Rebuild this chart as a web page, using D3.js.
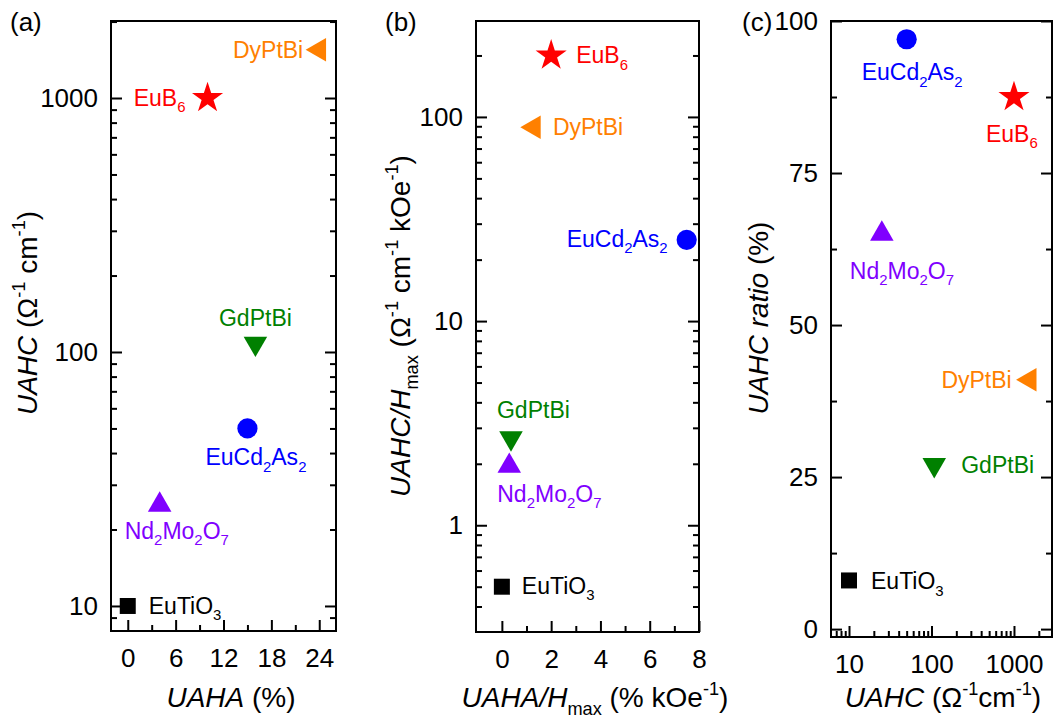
<!DOCTYPE html>
<html>
<head>
<meta charset="utf-8">
<script src="https://cdn.jsdelivr.net/npm/d3@7"></script>
<style>
  body { margin: 0; background: #fff; }
  svg text { font-family: "Liberation Sans", Arial, sans-serif; }
</style>
</head>
<body>
<svg id="chart" width="1054" height="724"></svg>
<script>
// data
const materials = ["EuTiO3", "Nd2Mo2O7", "EuCd2As2", "GdPtBi", "EuB6", "DyPtBi"];
const uaha      = [0, 4, 15, 16, 10, 24];            // %
const uahc      = [10, 25, 50, 108, 1000, 1550];     // ohm^-1 cm^-1
const uahaPerH  = [0, 0.3, 7.5, 0.37, 2, 1.3];       // % kOe^-1
const uahcPerH  = [0.5, 1.95, 25, 2.67, 200, 89];    // ohm^-1 cm^-1 kOe^-1
const uahcRatio = [8, 65, 97, 27, 87.5, 41];         // %

const colors  = ["#000000", "#8000ff", "#0000ff", "#008000", "#ff0000", "#ff8000"];
const shapes  = ["square", "up", "circle", "down", "star", "left"];

let svg = d3.select("#chart");

// text with italic / sub / sup pieces
function richText(sel, parts, size) {
  let shift = 0;
  parts.forEach(function(p) {
    let small = p.s === "sup" || p.s === "sub";
    let fs = small ? size * 0.65 : size;
    let target = p.s === "sup" ? -size * 0.42 : p.s === "sub" ? size * 0.28 : 0;
    sel.append("tspan")
      .attr("font-size", fs)
      .attr("font-style", p.i ? "italic" : "normal")
      .attr("dy", target - shift)
      .text(p.t);
    shift = target;
  });
}

function formula(name) {
  return name.split(/(\d+)/).filter(d => d !== "").map(function(d) {
    return /\d/.test(d) ? {t: d, s: "sub"} : {t: d};
  });
}

function symbolPath(shape) {
  let gen = d3.symbol();
  if (shape === "square") return gen.type(d3.symbolSquare).size(256)();
  if (shape === "circle") return gen.type(d3.symbolCircle).size(320)();
  if (shape === "star") return gen.type(d3.symbolStar).size(300)();
  return gen.type(d3.symbolTriangle).size(240)();
}
function symbolRot(shape) {
  if (shape === "down") return 180;
  if (shape === "left") return -90;
  return 0;
}

let panels = [
  {
    tag: "(a)", tagX: 10,
    box: [111, 336, 21, 631],
    x: d3.scaleLinear().domain([-2.1, 26.1]),
    y: d3.scaleLog().domain([7.97, 2010]),
    xs: uaha, ys: uahc,
    xMajor: [0, 6, 12, 18, 24], xMinor: [3, 9, 15, 21], xFmt: d => d,
    yMajor: [10, 100, 1000], yMinor: [9, 20, 30, 40, 50, 60, 70, 80, 90, 200, 300, 400, 500, 600, 700, 800, 900, 2000], yFmt: d => d,
    xTitle: [{t: "UAHA", i: true}, {t: " (%)"}], xTitleX: 231,
    yTitle: [{t: "UAHC", i: true}, {t: " (Ω"}, {t: "-1", s: "sup"}, {t: " cm"}, {t: "-1", s: "sup"}, {t: ")"}],
    yTitleX: 37, yTitleY: 313,
    labels: [["start", 21, 8], ["start", -35, 34], ["start", -42, 37], ["middle", 0, -18], ["end", -22, 8], ["end", -16, 8]]
  },
  {
    tag: "(b)", tagX: 385,
    box: [476, 699, 21, 632],
    x: d3.scaleLinear().domain([-1.05, 8]),
    y: d3.scaleLog().domain([0.3, 295]),
    xs: uahaPerH, ys: uahcPerH,
    xMajor: [0, 2, 4, 6, 8], xMinor: [1, 3, 5, 7], xFmt: d => d,
    yMajor: [1, 10, 100], yMinor: [0.4, 0.5, 0.6, 0.7, 0.8, 0.9, 2, 3, 4, 5, 6, 7, 8, 9, 20, 30, 40, 50, 60, 70, 80, 90, 200], yFmt: d => d,
    xTitle: [{t: "UAHA/H", i: true}, {t: "max", s: "sub"}, {t: " (% kOe"}, {t: "-1", s: "sup"}, {t: ")"}], xTitleX: 595,
    yTitle: [{t: "UAHC/H", i: true}, {t: "max", s: "sub"}, {t: " (Ω"}, {t: "-1", s: "sup"}, {t: " cm"}, {t: "-1", s: "sup"}, {t: " kOe"}, {t: "-1", s: "sup"}, {t: ")"}],
    yTitleX: 410, yTitleY: 326,
    labels: [["start", 20, 7], ["start", -12, 36], ["end", -19, 7], ["start", -14, -20], ["start", 25, 8], ["start", 19, 8]]
  },
  {
    tag: "(c)", tagX: 742,
    box: [831, 1052, 21, 637],
    x: d3.scaleLog().domain([6.05, 2890]),
    y: d3.scaleLinear().domain([-1.3, 100]),
    xs: uahc, ys: uahcRatio,
    xMajor: [10, 100, 1000], xMinor: [7, 8, 9, 20, 30, 40, 50, 60, 70, 80, 90, 200, 300, 400, 500, 600, 700, 800, 900, 2000], xFmt: d => d,
    yMajor: [0, 25, 50, 75, 100], yMinor: [12.5, 37.5, 62.5, 87.5], yFmt: d => d,
    xTitle: [{t: "UAHC", i: true}, {t: " (Ω"}, {t: "-1", s: "sup"}, {t: "cm"}, {t: "-1", s: "sup"}, {t: ")"}], xTitleX: 943,
    yTitle: [{t: "UAHC ratio", i: true}, {t: " (%)"}],
    yTitleX: 768, yTitleY: 318,
    labels: [["start", 22, 9], ["start", -32, 45], ["start", -45, 41], ["start", 27, 8], ["start", -28, 45], ["end", -18, 8]]
  }
];

panels.forEach(function(p) {
  let [l, r, t, b] = p.box;
  p.x.range([l, r]);
  p.y.range([b, t]);
  let g = svg.append("g");

  // axes, ticks pointing inward
  let addAxis = function(axis, transform, vals, size, fmt) {
    let a = g.append("g").attr("transform", transform)
      .call(axis.tickValues(vals).tickSize(size).tickSizeOuter(0).tickFormat(fmt));
    a.select(".domain").remove();
    a.selectAll("line").attr("stroke", "#000").attr("stroke-width", 2);
    a.selectAll("text").attr("font-size", 26).attr("fill", "#000")
      .attr("font-family", "Liberation Sans, Arial, sans-serif");
    return a;
  };
  let noLab = () => "";
  let bx = addAxis(d3.axisBottom(p.x), `translate(0,${b})`, p.xMajor, -11, p.xFmt);
  bx.selectAll("text").attr("y", 36).attr("dy", 0);
  addAxis(d3.axisBottom(p.x), `translate(0,${b})`, p.xMinor, -6, noLab);
  let ly = addAxis(d3.axisLeft(p.y), `translate(${l},0)`, p.yMajor, -11, p.yFmt);
  ly.selectAll("text").attr("x", -13);
  addAxis(d3.axisLeft(p.y), `translate(${l},0)`, p.yMinor, -6, noLab);
  addAxis(d3.axisRight(p.y), `translate(${r},0)`, p.yMajor, -11, noLab);
  addAxis(d3.axisRight(p.y), `translate(${r},0)`, p.yMinor, -6, noLab);

  // frame
  g.append("rect")
    .attr("x", l).attr("y", t)
    .attr("width", r - l).attr("height", b - t)
    .attr("fill", "none").attr("stroke", "#000").attr("stroke-width", 2);

  // markers
  materials.forEach(function(m, i) {
    let cx = p.x(p.xs[i]), cy = p.y(p.ys[i]);
    g.append("path")
      .attr("d", symbolPath(shapes[i]))
      .attr("transform", `translate(${cx},${cy}) rotate(${symbolRot(shapes[i])})`)
      .attr("fill", colors[i]);
    let lab = p.labels[i];
    let txt = g.append("text")
      .attr("x", cx + lab[1]).attr("y", cy + lab[2])
      .attr("text-anchor", lab[0])
      .attr("fill", colors[i]);
    richText(txt, formula(m), 23);
  });

  // axis titles
  let xt = g.append("text").attr("x", p.xTitleX).attr("y", 707)
    .attr("text-anchor", "middle").attr("fill", "#000");
  richText(xt, p.xTitle, 28);
  let yt = g.append("text")
    .attr("transform", `translate(${p.yTitleX},${p.yTitleY}) rotate(-90)`)
    .attr("text-anchor", "middle").attr("fill", "#000");
  richText(yt, p.yTitle, 28);

  // panel tag
  g.append("text").attr("x", p.tagX).attr("y", 31)
    .attr("font-size", 26).attr("fill", "#000").text(p.tag);
});
</script>
</body>
</html>
